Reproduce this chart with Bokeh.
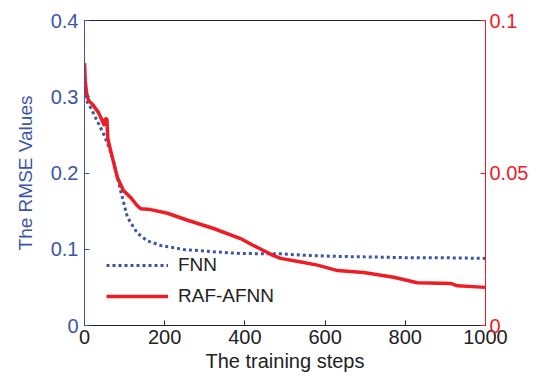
from bokeh.plotting import figure
from bokeh.models import LinearAxis, Range1d, Legend, LegendItem, FixedTicker
from bokeh.embed import file_html
from bokeh.resources import INLINE

# FNN (left axis, RMSE)
fnn_steps = [0, 5, 15, 30, 47, 60, 72, 90, 107, 115, 132, 157, 190, 247, 314, 389, 489, 550, 638, 700, 800, 905, 1000]
fnn_vals = [0.31, 0.295, 0.286, 0.27, 0.252, 0.235, 0.216, 0.177, 0.142, 0.135, 0.121, 0.111, 0.105,
            0.0997, 0.097, 0.0944, 0.094, 0.092, 0.0905, 0.090, 0.089, 0.0888, 0.088]

# RAF-AFNN (right axis)
raf_steps = [0, 2, 5, 10, 20, 35, 47, 50, 52, 56, 58, 65, 82, 97, 115, 130, 140, 165, 207, 257, 322,
             389, 420, 440, 470, 489, 540, 581, 631, 696, 771, 830, 913, 930, 1000]
raf_vals = [0.086, 0.080, 0.0763, 0.0738, 0.0725, 0.0698, 0.0663, 0.0655, 0.068, 0.0675, 0.0613, 0.0575,
            0.0485, 0.0443, 0.042, 0.0395, 0.0383, 0.038, 0.0368, 0.0345, 0.0318, 0.0285, 0.0263, 0.025,
            0.023, 0.022, 0.0208, 0.0198, 0.018, 0.0174, 0.0158, 0.014, 0.0138, 0.013, 0.0125]

x_ticks = [0, 200, 400, 600, 800, 1000]
left_ticks = [0, 0.1, 0.2, 0.3, 0.4]
right_ticks = [0, 0.05, 0.1]

BLUE = "#3C55A5"
RED = "#EE1C25"
FONT = "Liberation Sans"

p = figure(width=539, height=383, x_range=Range1d(0, 1000), y_range=Range1d(0, 0.4),
           min_border_left=84, min_border_right=54, min_border_top=20, min_border_bottom=58,
           output_backend="svg", toolbar_location=None)
p.extra_y_ranges = {"right": Range1d(0, 0.1)}
p.grid.visible = False
p.outline_line_color = "#222222"
p.outline_line_width = 1

# x axis
xa = p.xaxis[0]
xa.ticker = FixedTicker(ticks=x_ticks)
xa.axis_label = "The training steps"
xa.axis_label_text_font = FONT
xa.axis_label_text_font_style = "normal"
xa.axis_label_text_font_size = "20px"
xa.axis_label_text_color = "#222222"
xa.axis_label_standoff = 3
xa.major_label_text_font = FONT
xa.major_label_text_font_size = "20px"
xa.major_label_text_color = "#222222"
xa.major_label_standoff = 4
xa.axis_line_color = "#222222"
xa.major_tick_in = 5
xa.major_tick_out = 0
xa.major_tick_line_color = "#222222"
xa.minor_tick_line_color = None

# left axis
ya = p.yaxis[0]
ya.ticker = FixedTicker(ticks=left_ticks)
ya.axis_label = "The RMSE Values"
ya.axis_label_text_font = FONT
ya.axis_label_text_font_style = "normal"
ya.axis_label_text_font_size = "19px"
ya.axis_label_text_color = BLUE
ya.axis_label_standoff = 12
ya.major_label_text_font = FONT
ya.major_label_text_font_size = "20px"
ya.major_label_text_color = BLUE
ya.major_label_standoff = 6
ya.axis_line_color = BLUE
ya.major_tick_in = 5
ya.major_tick_out = 0
ya.major_tick_line_color = BLUE
ya.minor_tick_line_color = None

# right axis
ra = LinearAxis(y_range_name="right", ticker=FixedTicker(ticks=right_ticks))
ra.major_label_text_font = FONT
ra.major_label_text_font_size = "20px"
ra.major_label_text_color = RED
ra.major_label_standoff = 4
ra.axis_line_color = RED
ra.major_tick_in = 5
ra.major_tick_out = 0
ra.major_tick_line_color = RED
ra.minor_tick_line_color = None
p.add_layout(ra, "right")

r_fnn = p.line(fnn_steps, fnn_vals, line_color=BLUE, line_width=3, line_dash="3 3")
r_raf = p.line(raf_steps, raf_vals, line_color=RED, line_width=3.5, y_range_name="right")

legend = Legend(items=[LegendItem(label="FNN", renderers=[r_fnn]),
                       LegendItem(label="RAF-AFNN", renderers=[r_raf])],
                location=(22, 18), orientation="vertical")
legend.background_fill_alpha = 0
legend.border_line_color = None
legend.label_text_font = FONT
legend.label_text_font_size = "19px"
legend.label_text_color = "#222222"
legend.glyph_width = 62
legend.glyph_height = 20
legend.spacing = 9
legend.padding = 0
legend.margin = 0
legend.label_standoff = 10
p.add_layout(legend, "center")

open("out.html", "w").write(file_html(p, INLINE))
